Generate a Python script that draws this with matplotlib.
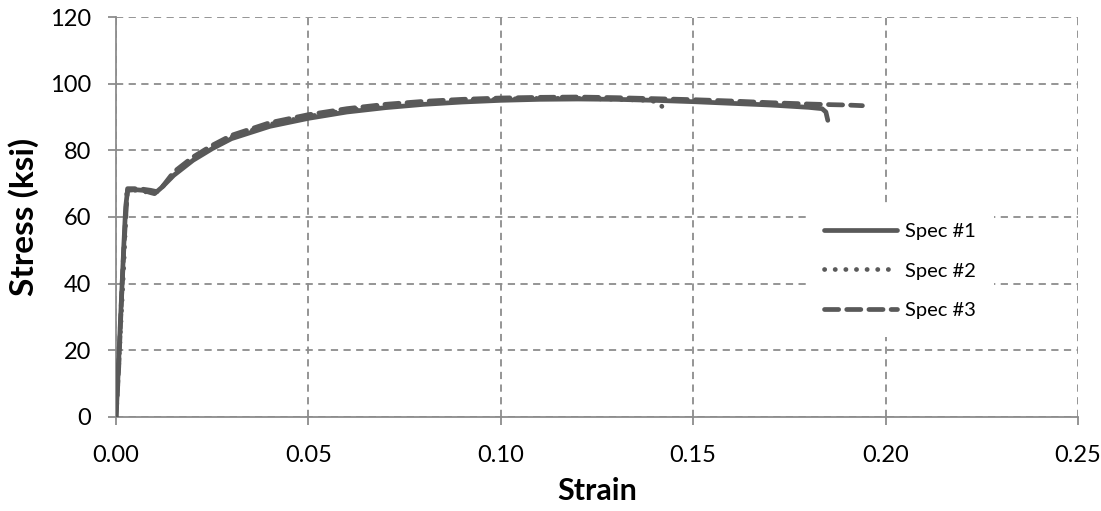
import numpy as np
import matplotlib
matplotlib.use("Agg")
import matplotlib.pyplot as plt

# stress-strain data (strain, ksi)
strain1 = [0, 0.0005, 0.001, 0.0015, 0.002, 0.0025, 0.003, 0.005, 0.007, 0.009, 0.010,
           0.012, 0.015, 0.02, 0.025, 0.03, 0.04, 0.05, 0.06, 0.07, 0.08, 0.09, 0.10,
           0.11, 0.12, 0.13, 0.14, 0.15, 0.16, 0.17, 0.18, 0.1835, 0.1845, 0.185]
stress1 = [0, 12, 25, 38, 51, 63, 68, 68.2, 68, 67.3, 67,
           69, 72.5, 77, 80.5, 83.5, 87.2, 89.6, 91.5, 92.8, 93.8, 94.5, 95,
           95.3, 95.4, 95.3, 95, 94.6, 94.1, 93.6, 92.9, 92.5, 91.5, 89]

strain2 = [0, 0.001, 0.002, 0.0028, 0.005, 0.008, 0.0095, 0.012, 0.015, 0.02, 0.03,
           0.04, 0.05, 0.06, 0.07, 0.08, 0.09, 0.10, 0.11, 0.12, 0.13, 0.138, 0.141,
           0.142, 0.1422]
stress2 = [0, 22, 45, 67.5, 68, 67.5, 66.8, 69, 72.8, 77.5, 84,
           87.8, 90.2, 92, 93.3, 94.2, 94.9, 95.4, 95.6, 95.6, 95.3, 95, 94.5,
           93, 91]

strain3 = [0, 0.0007, 0.0014, 0.002, 0.0025, 0.003, 0.006, 0.009, 0.011, 0.015, 0.02,
           0.025, 0.03, 0.04, 0.05, 0.06, 0.07, 0.08, 0.09, 0.10, 0.11, 0.12, 0.13,
           0.14, 0.15, 0.16, 0.17, 0.18, 0.186, 0.19, 0.194]
stress3 = [0, 15, 35, 50, 60, 68.5, 68.5, 68, 67.5, 73.5, 78,
           81.5, 84.5, 88.3, 90.7, 92.5, 93.8, 94.7, 95.3, 95.7, 95.9, 96, 95.8,
           95.5, 95.2, 94.8, 94.3, 93.9, 93.7, 93.6, 93.4]

labels = ["Spec #1", "Spec #2", "Spec #3"]

plt.rcParams["font.family"] = ["Lato", "DejaVu Sans"]

fig = plt.figure(figsize=(11.01, 5.11), dpi=100)
ax = fig.add_axes([0.1054, 0.184, 0.8736, 0.7827])

col = "#595959"
lw = 3.4
ax.plot(strain1, stress1, color=col, lw=lw, solid_capstyle="round", label=labels[0], zorder=3)
ax.plot(strain2, stress2, color=col, lw=lw, linestyle=(0, (0.05, 2.2)),
        dash_capstyle="round", label=labels[1], zorder=3)
ax.plot(strain3, stress3, color=col, lw=lw, linestyle=(0, (3.0, 1.7)),
        dash_capstyle="round", label=labels[2], zorder=3)

ax.set_xlim(0, 0.25)
ax.set_ylim(0, 120)
ax.set_xticks(np.arange(0, 0.251, 0.05))
ax.set_yticks(np.arange(0, 121, 20))
ax.xaxis.set_major_formatter(matplotlib.ticker.FormatStrFormatter("%.2f"))

ax.grid(True, color="#8c8c8c", linestyle=(0, (4, 3)), linewidth=1.3)
ax.set_axisbelow(True)
for s in ["top", "right"]:
    ax.spines[s].set_visible(False)
for s in ["left", "bottom"]:
    ax.spines[s].set_color("#8c8c8c")
    ax.spines[s].set_linewidth(1.3)
ax.tick_params(axis="both", direction="out", length=6, width=1.3, color="#8c8c8c",
               labelsize=17, pad=12)
ax.tick_params(axis="x", pad=14)

ax.set_xlabel("Strain", fontsize=22, fontweight="bold", labelpad=8)
ax.set_ylabel("Stress (ksi)", fontsize=24, fontweight="bold", labelpad=8)

leg = ax.legend(loc="upper left", bbox_to_anchor=(0.707, 0.555), fontsize=14.5,
                handlelength=3.6, labelspacing=1.1, handletextpad=0.4,
                borderpad=0.9, frameon=True, fancybox=False, framealpha=1)
leg.get_frame().set_edgecolor("none")
leg.get_frame().set_facecolor("white")

fig.savefig("out.png", dpi=100)
